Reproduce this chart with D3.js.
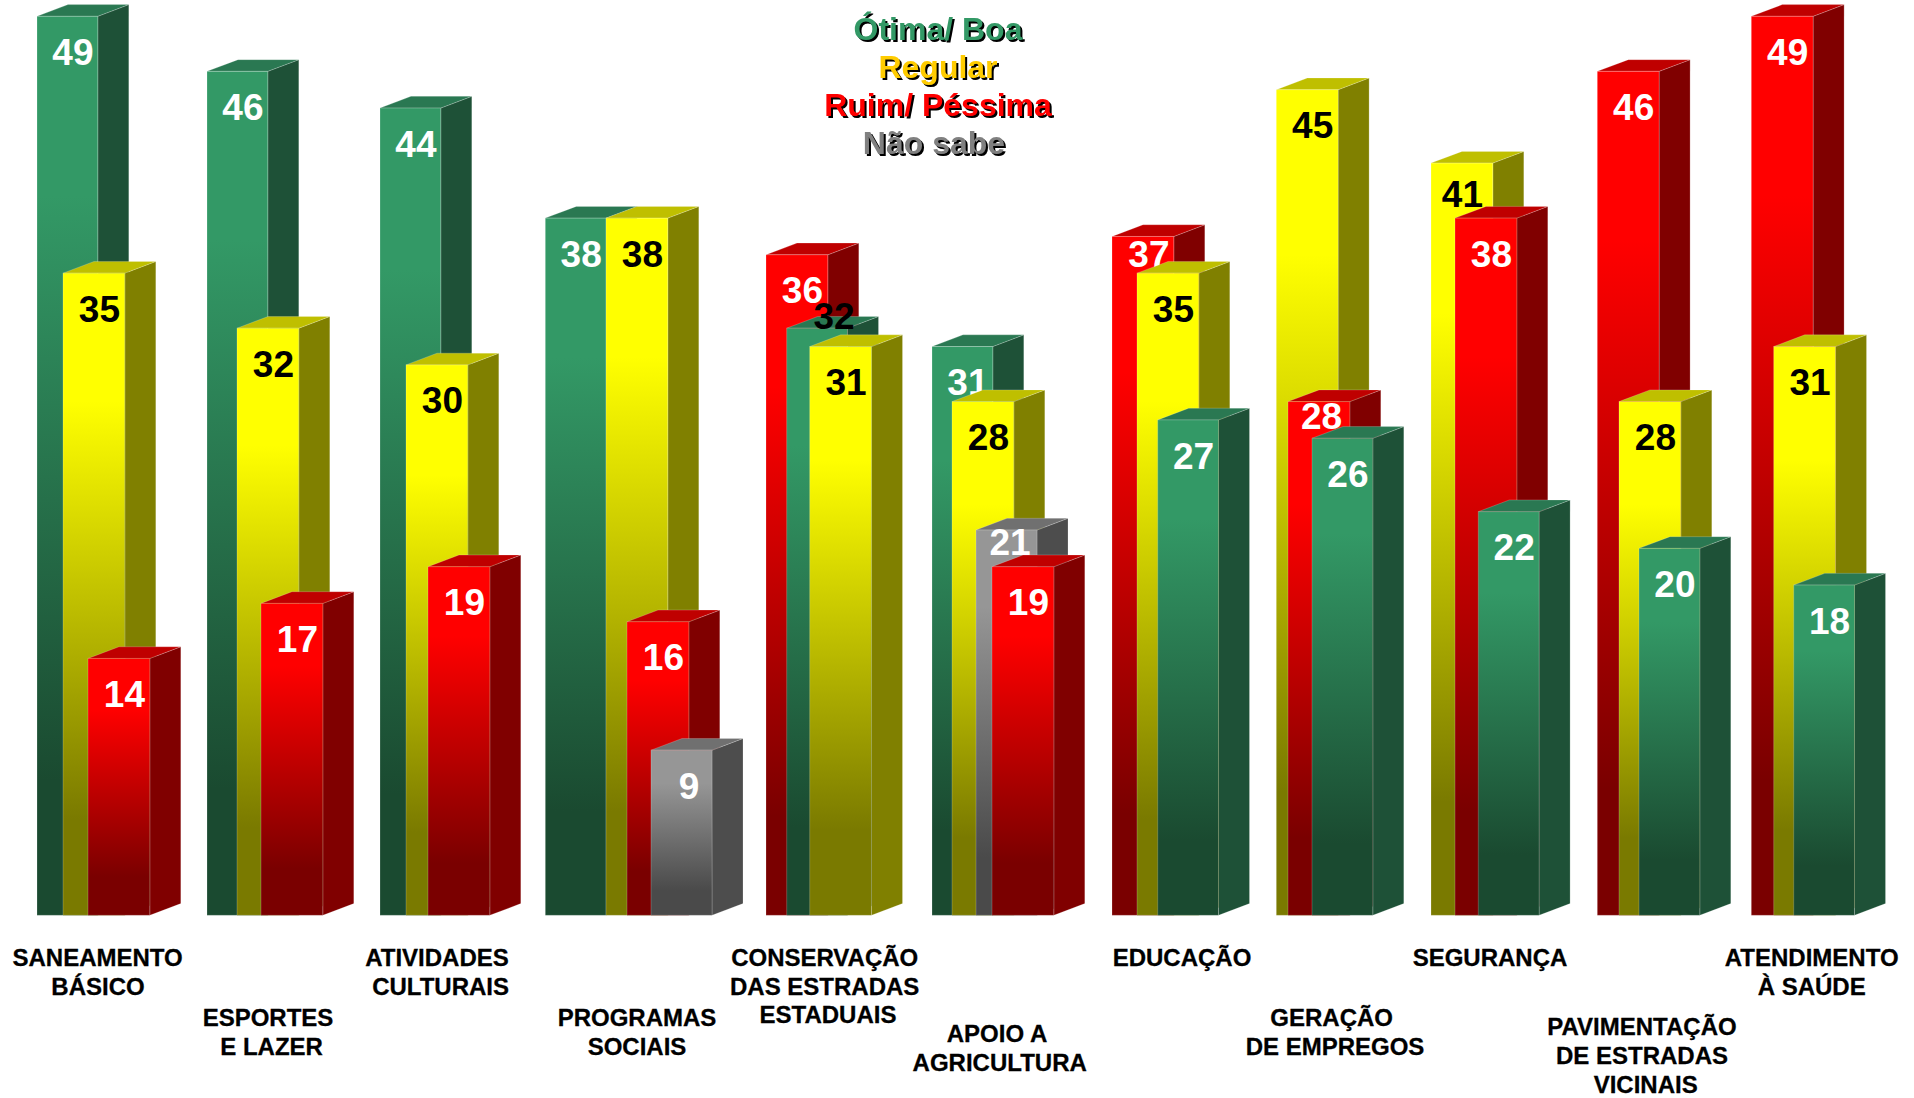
<!DOCTYPE html>
<html>
<head>
<meta charset="utf-8">
<title>Avaliação dos serviços</title>
<script src="https://cdn.jsdelivr.net/npm/d3@7"></script>
<style>
	html, body { margin: 0; padding: 0; background: #fff; }
	svg { display: block; }
	text { font-family: "Liberation Sans", Arial, sans-serif; font-weight: bold; }
	.cat { stroke: #000; stroke-width: 0.3px; }
	.legend-item { filter: drop-shadow(2.5px 2.5px 0 #000); }
</style>
</head>
<body>
<svg id="chart" width="1914" height="1098"></svg>
<script>
//=======================
//[1] Data
//=======================
var categories = [
	'SANEAMENTO|BÁSICO', 'ESPORTES|E LAZER', 'ATIVIDADES|CULTURAIS', 'PROGRAMAS|SOCIAIS',
	'CONSERVAÇÃO|DAS ESTRADAS|ESTADUAIS', 'APOIO A|AGRICULTURA', 'EDUCAÇÃO', 'GERAÇÃO|DE EMPREGOS',
	'SEGURANÇA', 'PAVIMENTAÇÃO|DE ESTRADAS|VICINAIS', 'ATENDIMENTO|À SAÚDE'
];
var seriesNames = ['Ótima/ Boa', 'Regular', 'Ruim/ Péssima', 'Não sabe'];
var otimaBoa = [49, 46, 44, 38, 32, 31, 27, 26, 22, 20, 18];
var regular = [35, 32, 30, 38, 31, 28, 35, 45, 41, 28, 31];
var ruimPessima = [14, 17, 19, 16, 36, 19, 37, 28, 38, 46, 49];
var naoSabe = [null, null, null, 9, null, 21, null, null, null, null, null];

//=======================
//[2] Layout
//=======================
var baseline = 915.3;
var depthX = 31;
var depthY = 11.7;

// bars were placed by hand in the original, left edge per category and rank
var barLefts = [
	[37, 63, 88], [207, 237, 261], [380, 406, 428], [545.3, 606, 627, 651],
	[766, 786.7, 809.7], [932, 952, 976, 992], [1112, 1137, 1157.7], [1276.3, 1288, 1312],
	[1431, 1455, 1478.3], [1597.3, 1619, 1639], [1751.3, 1773.7, 1793.7]
];
// label baseline of the first line and x centre of each line
var labelBaselines = [965.7, 1025.7, 965.7, 1025.7, 965.7, 1041.7, 965.7, 1025.7, 965.7, 1035.3, 965.7];
var labelCentres = [
	[97.6, 98], [268, 271.6], [437, 440.6], [637, 637], [824.7, 824.7, 828], [997, 999.7],
	[1182], [1331.7, 1335], [1490], [1642, 1642, 1645.7], [1811.7, 1811.7]
];
var lineHeight = 28.8;

// value labels that do not sit at the usual spot
var labelShift = { '4-1': [17, 1], '6-0': [6, 31], '7-1': [2.7, 27.5], '5-2': [3.5, 25], '8-0': [0.5, 43.6], '3-3': [7.5, 48.8] };

var fills = {
	'Ótima/ Boa': { width: 60.8, front: '#339966', dark: '#1a4a30', side: '#1e5137', top: '#2a7852', label: '#fff', legend: '#339966' },
	'Regular': { width: 61.8, front: '#ffff00', dark: '#7a7a00', side: '#808000', top: '#bfbf00', label: '#000', legend: '#ffcc00' },
	'Ruim/ Péssima': { width: 61.8, front: '#ff0000', dark: '#7a0000', side: '#800000', top: '#bf0000', label: '#fff', legend: '#ff0000' },
	'Não sabe': { width: 61, front: '#969696', dark: '#4a4a4a', side: '#4d4d4d', top: '#707070', label: '#fff', legend: '#808080' }
};

//=======================
//[3] Scales
//=======================
var svg = d3.select('#chart');
var y = d3.scaleLinear().domain([0, 49]).range([baseline, 16.3]);

var values = [otimaBoa, regular, ruimPessima, naoSabe];
var xKeys = [];
barLefts.forEach(function (lefts, c) {
	lefts.forEach(function (left, r) { xKeys.push(c + '-' + r); });
});
var x = d3.scaleOrdinal(xKeys, barLefts.flat());

function barWidth (d) {
	return fills[d.series].width;
}

// each group runs from the biggest value to the smallest
var groups = categories.map(function (name, c) {
	var bars = [];
	seriesNames.forEach(function (s, i) {
		if (values[i][c] != null) bars.push({ series: s, value: values[i][c], cat: c });
	});
	bars = d3.sort(bars, function (a, b) { return b.value - a.value; });
	bars.forEach(function (b, r) { b.key = c + '-' + r; });
	return bars;
});

//=======================
//[4] Gradients
//=======================
var defs = svg.append('defs');
seriesNames.forEach(function (s, i) {
	var grad = defs.append('linearGradient')
		.attr('id', 'front' + i)
		.attr('x1', 0).attr('y1', 0).attr('x2', 0).attr('y2', 1);
	grad.append('stop').attr('offset', '20%').attr('stop-color', fills[s].front);
	grad.append('stop').attr('offset', '85%').attr('stop-color', fills[s].dark);
});

//=======================
//[5] Bars
//=======================
var edge = 'rgba(255,255,255,0.2)';
var line = d3.line();

var bar = svg.selectAll('g.group')
	.data(groups)
	.join('g')
	.attr('class', 'group')
	.selectAll('g.bar')
	.data(function (d) { return d; })
	.join('g')
	.attr('class', 'bar');

bar.append('path')
	.attr('d', function (d) {
		var r = x(d.key) + barWidth(d), t = y(d.value);
		return line([[r, t], [r + depthX, t - depthY], [r + depthX, baseline - depthY], [r, baseline]]) + 'Z';
	})
	.style('fill', function (d) { return fills[d.series].side; })
	.style('stroke', edge);

bar.append('path')
	.attr('d', function (d) {
		var l = x(d.key), t = y(d.value), w = barWidth(d);
		return line([[l, t], [l + depthX, t - depthY], [l + w + depthX, t - depthY], [l + w, t]]) + 'Z';
	})
	.style('fill', function (d) { return fills[d.series].top; })
	.style('stroke', edge);

bar.append('rect')
	.attr('x', function (d) { return x(d.key); })
	.attr('y', function (d) { return y(d.value); })
	.attr('width', barWidth)
	.attr('height', function (d) { return baseline - y(d.value); })
	.style('fill', function (d) { return 'url(#front' + seriesNames.indexOf(d.series) + ')'; })
	.style('stroke', edge);

bar.append('text')
	.attr('x', function (d) {
		var shift = labelShift[d.key];
		return x(d.key) + barWidth(d) / 2 + (shift ? shift[0] : 5.5);
	})
	.attr('y', function (d) {
		var shift = labelShift[d.key];
		return y(d.value) + (shift ? shift[1] : 48.6);
	})
	.attr('text-anchor', 'middle')
	.style('font-size', '37px')
	.style('fill', function (d) {
		// the 32 of CONSERVAÇÃO is black in the original
		return d.key == '4-1' ? '#000' : fills[d.series].label;
	})
	.text(function (d) { return d.value; });

//=======================
//[6] Category labels
//=======================
svg.selectAll('text.cat')
	.data(categories)
	.join('text')
	.attr('class', 'cat')
	.attr('text-anchor', 'middle')
	.style('font-size', '24px')
	.style('fill', '#000')
	.each(function (name, c) {
		d3.select(this).selectAll('tspan')
			.data(name.split('|'))
			.join('tspan')
			.attr('x', function (d, i) { return labelCentres[c][i]; })
			.attr('y', function (d, i) { return labelBaselines[c] + i * lineHeight; })
			.text(function (d) { return d; });
	});

//=======================
//[7] Legend
//=======================
var legendBaselines = [39.5, 77.5, 116, 154];
var legendCentres = [938, 938, 938, 934];

svg.selectAll('text.legend-item')
	.data(seriesNames)
	.join('text')
	.attr('class', 'legend-item')
	.attr('x', function (d, i) { return legendCentres[i]; })
	.attr('y', function (d, i) { return legendBaselines[i]; })
	.attr('text-anchor', 'middle')
	.style('font-size', '32px')
	.style('fill', function (d) { return fills[d].legend; })
	.text(function (d) { return d; });
</script>
</body>
</html>
